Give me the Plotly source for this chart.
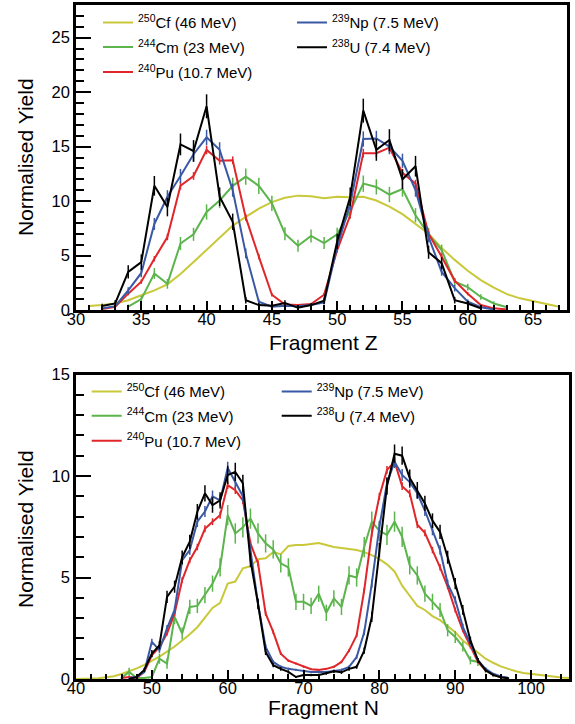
import plotly.graph_objects as go

# ---------------- Top panel: Fragment Z ----------------
z_cf = list(range(31, 68))
y_cf_z = [0.37, 0.45, 0.6, 0.9, 1.35, 1.8, 2.35, 3.3, 4.4, 5.5, 6.65, 7.75, 8.55, 9.3, 9.9, 10.3, 10.5,
          10.45, 10.25, 10.4, 10.35, 10.4, 10.05, 9.5, 8.8, 7.9, 7.0, 5.7, 4.6, 3.6, 2.75, 2.05, 1.46,
          1.07, 0.8, 0.55, 0.3]

z_cm = list(range(34, 64))
y_cm_z = [0.3, 1.0, 3.35, 2.4, 6.1, 6.95, 9.0, 10.05, 11.4, 12.25, 11.4, 9.8, 7.0, 5.9, 6.8, 6.15,
          6.95, 9.1, 11.6, 11.3, 10.6, 11.1, 8.7, 6.95, 5.5, 2.6, 2.1, 1.2, 0.6, 0.25]
e_cm_z = [0.2, 0.3, 0.5, 0.45, 0.6, 0.6, 0.7, 0.7, 0.75, 0.75, 0.75, 0.7, 0.6, 0.55, 0.6, 0.55,
          0.6, 0.7, 0.75, 0.7, 0.7, 0.7, 0.65, 0.6, 0.5, 0.35, 0.3, 0.25, 0.2, 0.1]

z_np = list(range(32, 63))
y_np_z = [0.15, 0.35, 1.8, 3.4, 7.9, 10.4, 12.3, 14.3, 15.85, 14.7, 11.0, 5.2, 0.76, 0.3, 0.4, 0.35,
          0.45, 0.7, 5.8, 9.75, 15.7, 15.75, 15.0, 13.7, 11.0, 6.7, 3.5, 2.0, 0.76, 0.25, 0.05]
e_np_z = [0.1, 0.15, 0.3, 0.4, 0.55, 0.6, 0.65, 0.65, 0.7, 0.7, 0.6, 0.45, 0.2, 0.12, 0.12, 0.12,
          0.15, 0.2, 0.45, 0.6, 0.7, 0.7, 0.7, 0.65, 0.6, 0.5, 0.35, 0.3, 0.2, 0.1, 0.05]

z_pu = list(range(32, 64))
y_pu_z = [0.1, 0.3, 1.5, 2.6, 4.7, 6.7, 11.4, 12.3, 14.7, 13.7, 13.75, 8.5, 4.9, 1.4, 0.5, 0.45,
          0.55, 1.4, 5.5, 8.7, 14.4, 14.4, 14.9, 12.6, 11.6, 7.0, 4.9, 2.7, 1.5, 0.46, 0.15, 0.05]
e_pu_z = [0.05, 0.08, 0.15, 0.2, 0.25, 0.3, 0.35, 0.35, 0.4, 0.35, 0.35, 0.3, 0.25, 0.15, 0.08, 0.08,
          0.08, 0.15, 0.25, 0.3, 0.4, 0.4, 0.4, 0.35, 0.35, 0.3, 0.25, 0.2, 0.15, 0.08, 0.05, 0.03]

z_u = list(range(32, 62))
y_u_z = [0.37, 0.6, 3.5, 4.4, 11.4, 9.45, 15.2, 14.6, 18.7, 10.4, 8.1, 0.9, 0.45, 0.4, 0.65, 0.2,
         0.45, 0.85, 6.3, 10.4, 18.3, 14.7, 15.6, 12.0, 13.2, 5.3, 4.3, 0.9, 0.6, 0.15]
e_u_z = [0.2, 0.3, 0.6, 0.7, 0.9, 0.85, 1.0, 1.0, 1.1, 0.85, 0.75, 0.3, 0.2, 0.2, 0.25, 0.15,
         0.2, 0.3, 0.7, 0.85, 1.1, 1.0, 1.0, 0.9, 0.95, 0.6, 0.55, 0.3, 0.25, 0.1]

# ---------------- Bottom panel: Fragment N ----------------
n_cf = list(range(40, 106))
y_cf_n = [0.0, 0.0, 0.02, 0.04, 0.08, 0.14, 0.25, 0.38, 0.52, 0.7, 0.9, 1.1, 1.35, 1.6, 1.9, 2.2,
          2.55, 3.0, 3.5, 3.75, 4.7, 4.8, 5.45, 5.55, 5.9, 5.95, 6.25, 6.15, 6.55, 6.6, 6.6, 6.65,
          6.7, 6.6, 6.5, 6.45, 6.4, 6.35, 6.25, 6.1, 5.9, 5.65, 5.3, 4.6, 4.1, 3.6, 3.4, 3.1, 2.9,
          2.6, 2.3, 1.9, 1.6, 1.3, 1.0, 0.8, 0.62, 0.5, 0.38, 0.3, 0.25, 0.2, 0.16, 0.12, 0.08, 0.05]

n_cm = list(range(46, 98))
y_cm_n = [0.05, 0.35, 0.05, 0.05, 0.1, 1.0, 0.76, 3.06, 2.24, 3.55, 3.6, 4.13, 4.7, 5.5, 8.07, 7.17,
          7.47, 7.9, 7.17, 6.68, 6.38, 5.7, 5.5, 3.8, 3.8, 3.6, 4.2, 3.26, 3.97, 3.55, 5.1, 5.0,
          6.5, 7.75, 7.3, 7.1, 7.75, 7.0, 5.6, 5.1, 4.2, 3.8, 3.4, 2.4, 2.07, 1.6, 0.92, 0.84,
          0.43, 0.2, 0.1, 0.05]
e_cm_n = [0.05, 0.2, 0.05, 0.05, 0.1, 0.25, 0.25, 0.35, 0.3, 0.35, 0.35, 0.4, 0.4, 0.45, 0.5, 0.5,
          0.5, 0.5, 0.5, 0.45, 0.45, 0.45, 0.45, 0.4, 0.4, 0.4, 0.4, 0.4, 0.4, 0.4, 0.45, 0.45,
          0.5, 0.5, 0.5, 0.5, 0.5, 0.5, 0.45, 0.45, 0.4, 0.4, 0.35, 0.3, 0.3, 0.25, 0.2, 0.2,
          0.15, 0.1, 0.05, 0.05]

n_np = list(range(47, 98))
y_np_n = [0.05, 0.1, 0.35, 1.83, 1.42, 2.5, 3.4, 5.85, 6.35, 7.75, 8.25, 9.0, 8.8, 10.4, 9.7, 9.0,
          6.35, 3.7, 1.58, 0.84, 0.6, 0.5, 0.45, 0.4, 0.35, 0.35, 0.35, 0.4, 0.45, 0.6, 1.08, 2.3,
          4.7, 7.5, 9.64, 10.7, 10.05, 9.7, 9.15, 8.3, 7.33, 6.35, 4.7, 3.9, 2.57, 1.75, 0.92, 0.5,
          0.26, 0.12, 0.05]
e_np_n = [0.02, 0.03, 0.06, 0.15, 0.13, 0.16, 0.18, 0.22, 0.23, 0.26, 0.27, 0.28, 0.28, 0.3, 0.29,
          0.28, 0.23, 0.18, 0.12, 0.08, 0.07, 0.06, 0.06, 0.06, 0.05, 0.05, 0.05, 0.06, 0.06, 0.07,
          0.1, 0.14, 0.2, 0.25, 0.29, 0.3, 0.3, 0.29, 0.28, 0.27, 0.25, 0.23, 0.2, 0.18, 0.15, 0.12,
          0.09, 0.06, 0.04, 0.03, 0.02]

n_pu = list(range(46, 98))
y_pu_n = [0.05, 0.1, 0.05, 0.35, 1.17, 1.58, 2.24, 3.23, 4.87, 5.85, 6.5, 7.4, 7.75, 8.07, 9.55, 9.3,
          8.8, 6.68, 5.7, 3.23, 2.32, 1.25, 0.9, 0.76, 0.6, 0.48, 0.45, 0.5, 0.6, 0.84, 1.4, 2.15,
          4.37, 7.17, 9.0, 10.3, 10.7, 9.5, 9.15, 7.6, 7.2, 6.35, 5.5, 4.55, 3.4, 2.4, 1.58, 0.84,
          0.43, 0.2, 0.1, 0.05]
e_pu_n = [0.02, 0.03, 0.02, 0.04, 0.08, 0.09, 0.1, 0.12, 0.14, 0.15, 0.16, 0.17, 0.17, 0.18, 0.19,
          0.19, 0.18, 0.16, 0.15, 0.12, 0.1, 0.07, 0.06, 0.05, 0.05, 0.04, 0.04, 0.04, 0.05, 0.06,
          0.07, 0.09, 0.13, 0.16, 0.18, 0.19, 0.2, 0.19, 0.18, 0.17, 0.17, 0.16, 0.15, 0.13, 0.12,
          0.1, 0.08, 0.06, 0.04, 0.03, 0.02, 0.01]

n_u = list(range(47, 98))
y_u_n = [0.0, 0.1, 0.45, 1.25, 1.66, 4.05, 4.55, 6.0, 6.76, 8.24, 9.15, 8.57, 8.8, 10.05, 10.2, 9.64,
         5.85, 3.7, 1.33, 0.68, 0.5, 0.35, 0.1, 0.2, 0.2, 0.2, 0.28, 0.38, 0.33, 0.5, 0.6, 1.4,
         3.06, 6.35, 9.5, 11.1, 11.0, 9.9, 9.3, 8.65, 7.8, 7.25, 6.0, 4.7, 3.4, 1.9, 0.92, 0.43,
         0.2, 0.08, 0.04]
e_u_n = [0.02, 0.05, 0.1, 0.18, 0.2, 0.3, 0.3, 0.33, 0.35, 0.38, 0.4, 0.38, 0.4, 0.45, 0.45, 0.42,
         0.33, 0.27, 0.15, 0.1, 0.09, 0.08, 0.05, 0.06, 0.06, 0.06, 0.07, 0.08, 0.08, 0.09, 0.1,
         0.15, 0.25, 0.35, 0.42, 0.45, 0.45, 0.42, 0.4, 0.38, 0.36, 0.35, 0.32, 0.28, 0.24, 0.18,
         0.12, 0.08, 0.06, 0.04, 0.03]

# labels and colours
names = {
    "cf": "<sup>250</sup>Cf (46 MeV)",
    "cm": "<sup>244</sup>Cm (23 MeV)",
    "pu": "<sup>240</sup>Pu (10.7 MeV)",
    "np": "<sup>239</sup>Np (7.5 MeV)",
    "u": "<sup>238</sup>U (7.4 MeV)",
}
colors = {"cf": "#c9c83a", "cm": "#5cb44c", "pu": "#e0262a", "np": "#3a58a4", "u": "#000000"}
x_titles = ["Fragment Z", "Fragment N"]
y_title = "Normalised Yield"

FONT = "Liberation Sans, Arial, Helvetica, sans-serif"

W, H = 575, 724
ML, MR, MT, MB = 76, 6, 5, 45
PW = W - ML - MR
PH = H - MT - MB


def px_x(p):
    return (p - ML) / PW


def px_y(p):
    return (H - MB - p) / PH


fig = go.Figure()
legends = {}


def add(x, y, err, key, xa, ya, leg, lx, ly):
    kw = {}
    if err is not None:
        kw["error_y"] = dict(type="data", array=err, visible=True, color=colors[key],
                             thickness=1.5, width=0)
    fig.add_trace(go.Scatter(x=x, y=y, mode="lines", name=names[key],
                             line=dict(color=colors[key], width=2),
                             xaxis=xa, yaxis=ya, legend=leg, **kw))
    legends[leg] = dict(font=dict(family=FONT, size=15, color="black"),
                        bgcolor="rgba(0,0,0,0)", borderwidth=0,
                        xanchor="left", yanchor="middle", orientation="v",
                        x=px_x(lx - 5), y=px_y(ly))


# top panel: column 1 (Cf, Cm, Pu), column 2 (Np, U)
add(z_cf, y_cf_z, None, "cf", "x", "y", "legend", 103, 22.7)
add(z_cm, y_cm_z, e_cm_z, "cm", "x", "y", "legend2", 103, 47.3)
add(z_pu, y_pu_z, e_pu_z, "pu", "x", "y", "legend3", 103, 72.3)
add(z_np, y_np_z, e_np_z, "np", "x", "y", "legend4", 297, 22.7)
add(z_u, y_u_z, e_u_z, "u", "x", "y", "legend5", 297, 47.5)
# bottom panel
add(n_cf, y_cf_n, None, "cf", "x2", "y2", "legend6", 91.7, 391.7)
add(n_cm, y_cm_n, e_cm_n, "cm", "x2", "y2", "legend7", 91.7, 416)
add(n_pu, y_pu_n, e_pu_n, "pu", "x2", "y2", "legend8", 91.7, 441)
add(n_np, y_np_n, e_np_n, "np", "x2", "y2", "legend9", 281.7, 391.7)
add(n_u, y_u_n, e_u_n, "u", "x2", "y2", "legend10", 281.7, 416)

tickfont = dict(family=FONT, size=16.5, color="black")
titlefont = dict(family=FONT, size=21, color="black")

common_x = dict(showline=True, linecolor="black", linewidth=2.5, mirror=True,
                ticks="inside", ticklen=9, tickwidth=2, tickcolor="black",
                showgrid=False, zeroline=False, tickfont=tickfont,
                ticklabelstandoff=-8, automargin=False)
common_y = dict(showline=True, linecolor="black", linewidth=2.5, mirror=True,
                ticks="inside", ticklen=15, tickwidth=2, tickcolor="black",
                showgrid=False, zeroline=False, tickfont=tickfont, automargin=False)

annotations = [
    dict(text=x_titles[0], x=px_x(323), y=px_y(342), xref="paper", yref="paper",
         xanchor="center", yanchor="middle", showarrow=False, font=titlefont),
    dict(text=x_titles[1], x=px_x(323), y=px_y(707), xref="paper", yref="paper",
         xanchor="center", yanchor="middle", showarrow=False, font=titlefont),
    dict(text=y_title, x=px_x(25), y=px_y(157), xref="paper", yref="paper", textangle=-90,
         xanchor="center", yanchor="middle", showarrow=False, font=titlefont),
    dict(text=y_title, x=px_x(25), y=px_y(529), xref="paper", yref="paper", textangle=-90,
         xanchor="center", yanchor="middle", showarrow=False, font=titlefont),
]

fig.update_layout(
    width=W, height=H,
    margin=dict(l=ML, r=MR, t=MT, b=MB, autoexpand=False),
    paper_bgcolor="white", plot_bgcolor="white",
    font=dict(family=FONT, color="black"),
    showlegend=True,
    annotations=annotations,
    xaxis=dict(common_x, domain=[0, px_x(567)], range=[30, 67.6], anchor="y",
               dtick=5, tick0=30,
               minor=dict(ticks="inside", ticklen=5, tickwidth=2, tickcolor="black", dtick=1)),
    yaxis=dict(common_y, domain=[px_y(310), 1], range=[0, 28], anchor="x",
               dtick=5, tick0=0,
               minor=dict(ticks="inside", ticklen=8, tickwidth=2, tickcolor="black", dtick=1)),
    xaxis2=dict(common_x, domain=[0, 1], range=[40, 105], anchor="y2",
                dtick=10, tick0=40,
                minor=dict(ticks="inside", ticklen=5, tickwidth=2, tickcolor="black", dtick=2)),
    yaxis2=dict(common_y, domain=[0, px_y(374.5)], range=[0, 15], anchor="x2",
                dtick=5, tick0=0,
                minor=dict(ticks="inside", ticklen=8, tickwidth=2, tickcolor="black", dtick=1)),
    **legends,
)

fig.write_html("out.html", config={"displayModeBar": False},
               post_script="document.body.style.margin='0';"
                           "document.body.style.overflow='hidden';")
